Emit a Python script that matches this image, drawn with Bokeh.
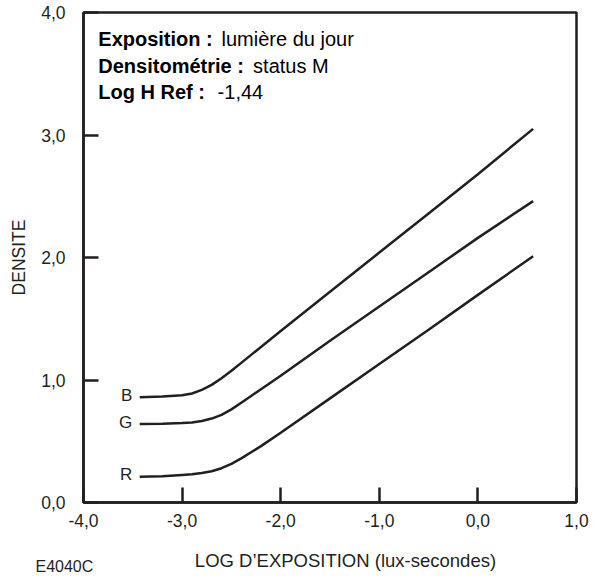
from bokeh.plotting import figure
from bokeh.models import Range1d, FixedTicker, LinearAxis, Title
from bokeh.core.properties import value
from bokeh.embed import file_html
from bokeh.resources import INLINE

# ---- data ----
log_h = [-3.43, -3.2, -3.0, -2.9, -2.8, -2.7, -2.6, -2.5, -2.4, -2.3, -2.2, -2.0, -1.5, -1.0, -0.5, 0.0, 0.56]
dens_B = [0.86, 0.865, 0.875, 0.89, 0.92, 0.96, 1.015, 1.075, 1.14, 1.205, 1.27, 1.40, 1.72, 2.04, 2.36, 2.68, 3.05]
dens_G = [0.64, 0.643, 0.648, 0.653, 0.665, 0.685, 0.715, 0.76, 0.815, 0.87, 0.925, 1.035, 1.32, 1.60, 1.88, 2.16, 2.46]
dens_R = [0.21, 0.215, 0.225, 0.23, 0.24, 0.255, 0.28, 0.315, 0.36, 0.41, 0.46, 0.57, 0.85, 1.13, 1.41, 1.695, 2.01]
curve_names = ["B", "G", "R"]

x_ticks = [-4, -3, -2, -1, 0, 1]
x_tick_labels = ["-4,0", "-3,0", "-2,0", "-1,0", "0,0", "1,0"]
y_ticks = [0, 1, 2, 3, 4]
y_tick_labels = ["0,0", "1,0", "2,0", "3,0", "4,0"]

x_title = "LOG D\u2019EXPOSITION (lux-secondes)"
y_title = "DENSITE"
figure_code = "E4040C"

info_bold = ["Exposition :", "Densitométrie :", "Log H Ref :"]
info_text = ["lumière du jour", "status M", "-1,44"]

FONT = "Liberation Sans"
INK = "#231f20"

p = figure(width=592, height=578, output_backend="svg", toolbar_location=None,
           x_range=Range1d(-4, 1), y_range=Range1d(0, 4),
           min_border_left=83, min_border_right=16, min_border_top=12, min_border_bottom=76)
p.grid.visible = False
p.outline_line_color = INK
p.outline_line_width = 2.5
p.background_fill_color = "white"
p.border_fill_color = "white"


def style_axis(ax, size="17.5px"):
    ax.axis_line_color = INK
    ax.axis_line_width = 2.5
    ax.major_tick_line_color = INK
    ax.major_tick_line_width = 2.5
    ax.major_tick_in = 15
    ax.major_tick_out = 0
    ax.minor_tick_line_color = None
    ax.major_label_text_font = FONT
    ax.major_label_text_font_size = size
    ax.major_label_text_color = INK
    ax.axis_label_text_font = FONT
    ax.axis_label_text_font_size = "17.5px"
    ax.axis_label_text_font_style = "normal"
    ax.axis_label_text_color = INK


xa = p.xaxis[0]
ya = p.yaxis[0]
style_axis(xa)
style_axis(ya)

xa.ticker = FixedTicker(ticks=x_ticks)
xa.major_label_overrides = {t: l for t, l in zip(x_ticks, x_tick_labels)}
xa.major_label_standoff = 11

ya.ticker = FixedTicker(ticks=y_ticks)
ya.major_label_overrides = {t: l for t, l in zip(y_ticks, y_tick_labels)}
ya.axis_label = y_title
ya.major_label_standoff = 18
ya.axis_label_standoff = 9
ya.major_label_orientation = "horizontal"

# x-axis title, centred where the reference has it
title_axis = LinearAxis(ticker=FixedTicker(ticks=[-1.343]))
title_axis.major_label_overrides = {-1.343: x_title}
title_axis.axis_line_color = None
title_axis.major_tick_line_color = None
title_axis.minor_tick_line_color = None
title_axis.major_tick_in = 0
title_axis.major_tick_out = 0
title_axis.major_label_text_font = FONT
title_axis.major_label_text_font_size = "18.5px"
title_axis.major_label_text_color = INK
title_axis.major_label_standoff = 20
p.add_layout(title_axis, "below")

# figure code at the bottom left
code = Title(text=figure_code, align="left", vertical_align="top", offset=-48, standoff=-32,
             text_font=FONT, text_font_size="16px", text_font_style="normal", text_color=INK)
p.add_layout(code, "below")

for name, ys in zip(curve_names, [dens_B, dens_G, dens_R]):
    p.line(log_h, ys, line_color=INK, line_width=2.5)
    p.text(x=[log_h[0] - 0.075], y=[ys[0] + 0.015], text=[name], text_align="right",
           text_baseline="middle", text_font=value(FONT), text_font_size="17px", text_color=INK)

line_y = [3.787, 3.567, 3.347]
bold_x = -3.85
norm_x = [-2.60, -2.28, -2.64]
for yb, b, t, nx in zip(line_y, info_bold, info_text, norm_x):
    p.text(x=[bold_x], y=[yb], text=[b], text_font=value(FONT), text_font_style="bold",
           text_font_size="20px", text_baseline="middle", text_align="left", text_color="black")
    p.text(x=[nx], y=[yb], text=[t], text_font=value(FONT), text_font_size="20px",
           text_baseline="middle", text_align="left", text_color="black")

open("out.html", "w").write(file_html(p, INLINE))
